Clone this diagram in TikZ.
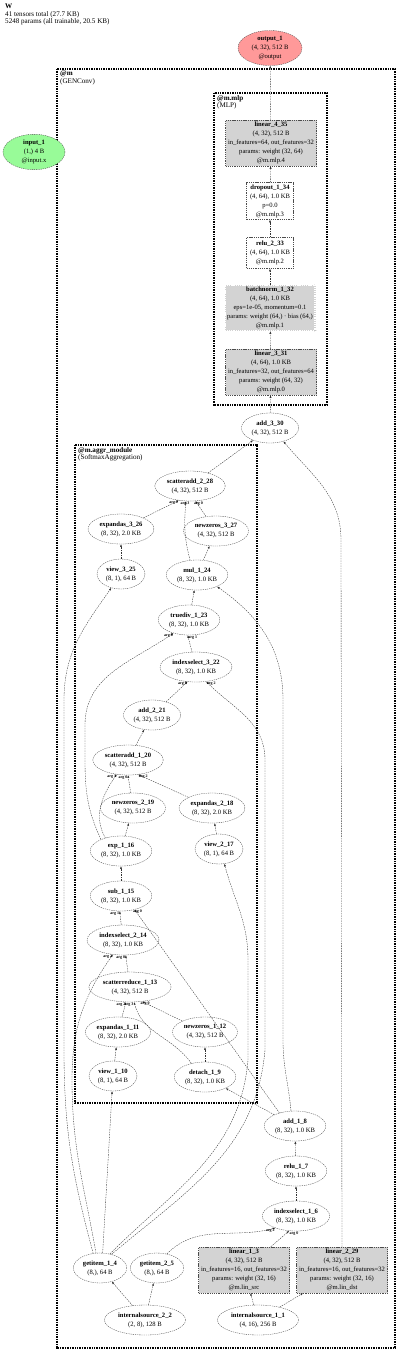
\documentclass[tikz,border=0pt]{standalone}
\usepackage{fontspec}
\setmainfont{Liberation Serif}
\usetikzlibrary{shapes.geometric,arrows.meta,positioning}
\definecolor{modgray}{RGB}{211,211,211}
\definecolor{outred}{RGB}{255,153,153}
\definecolor{ingreen}{RGB}{152,251,152}
\tikzset{
  op/.style={ellipse,draw=black!70,dash pattern=on 1.3pt off 0.9pt,line width=0.35pt,
    font=\fontsize{6.6}{9}\selectfont,align=center,inner xsep=1.8pt,inner ysep=0.5pt,minimum height=30pt},
  modop/.style={rectangle,draw=black!70,dash pattern=on 1.3pt off 0.9pt,line width=0.35pt,
    fill=modgray,font=\fontsize{6.6}{9}\selectfont,align=center,inner sep=0.6pt,
    minimum width=91pt,minimum height=46pt},
  plainop/.style={modop,fill=none,minimum width=47pt,minimum height=31pt},
  grp/.style={draw,line width=1.6pt,dash pattern=on 1pt off 0.7pt},
  grplabel/.style={anchor=north west,align=left,font=\fontsize{7.1}{7.2}\selectfont,inner sep=0pt},
  flow/.style={draw=black!80,line width=0.35pt,dash pattern=on 1.5pt off 1pt,
    -{Latex[length=2.6pt,width=2pt]}},
  argl/.style={font=\fontsize{4}{4}\selectfont\bfseries,inner sep=0.4pt},
}
\newcommand{\opn}[2]{\textbf{#1}\\#2}

\begin{document}
\begin{tikzpicture}[x=1pt,y=-1pt]
  \useasboundingbox (0,0) rectangle (400,1354);
  \node[grplabel] (title) at (5,4) {\textbf{W}\\41 tensors total (27.7 KB)\\5248 params (all trainable, 20.5 KB)};

  % module boxes
  \draw[grp] (57,69) rectangle (395,1348);
  \node[grplabel] (m_lbl) at (60,71) {\textbf{@m}\\(GENConv)};
  \draw[grp] (214,93) rectangle (327,405);
  \node[grplabel] (mlp_lbl) at (217,95) {\textbf{@m.mlp}\\(MLP)};
  \draw[grp] (75,445) rectangle (257,1103);
  \node[grplabel] (aggr_lbl) at (78,447) {\textbf{@m.aggr\_module}\\(SoftmaxAggregation)};

  % inputs / outputs
  \node[op,fill=outred,minimum width=64pt] (output_1) at (270,48) {\opn{output\_1}{(4, 32), 512 B}\\@output};
  \node[op,fill=ingreen,minimum width=62pt] (input_1) at (34,152) {\opn{input\_1}{(1,) 4 B}\\@input.x};

  % mlp
  \node[modop] (linear_4_35) at (271,143) {\opn{linear\_4\_35}{(4, 32), 512 B}\\in\_features=64, out\_features=32\\params: weight (32, 64)\\@m.mlp.4};
  \node[plainop,minimum height=37pt] (dropout_1_34) at (270,201) {\opn{dropout\_1\_34}{(4, 64), 1.0 KB}\\p=0.0\\@m.mlp.3};
  \node[plainop] (relu_2_33) at (270,253) {\opn{relu\_2\_33}{(4, 64), 1.0 KB}\\@m.mlp.2};
  \node[modop,double=white,double distance=2.2pt,minimum height=46pt] (batchnorm_1_32) at (270,308) {\opn{batchnorm\_1\_32}{(4, 64), 1.0 KB}\\eps=1e-05, momentum=0.1\\params: weight (64,) · bias (64,)\\@m.mlp.1};
  \node[modop] (linear_3_31) at (271,372) {\opn{linear\_3\_31}{(4, 64), 1.0 KB}\\in\_features=32, out\_features=64\\params: weight (64, 32)\\@m.mlp.0};
  \node[op] (add_3_30) at (270,428) {\opn{add\_3\_30}{(4, 32), 512 B}};

  % aggregation
  \node[op] (scatteradd_2_28) at (190,486) {\opn{scatteradd\_2\_28}{(4, 32), 512 B}};
  \node[op] (expandas_3_26) at (121,529) {\opn{expandas\_3\_26}{(8, 32), 2.0 KB}};
  \node[op] (newzeros_3_27) at (216,531) {\opn{newzeros\_3\_27}{(4, 32), 512 B}};
  \node[op] (view_3_25) at (121,574) {\opn{view\_3\_25}{(8, 1), 64 B}};
  \node[op] (mul_1_24) at (197,575) {\opn{mul\_1\_24}{(8, 32), 1.0 KB}};
  \node[op] (truediv_1_23) at (189,620) {\opn{truediv\_1\_23}{(8, 32), 1.0 KB}};
  \node[op] (indexselect_3_22) at (196,667) {\opn{indexselect\_3\_22}{(8, 32), 1.0 KB}};
  \node[op] (add_2_21) at (152,715) {\opn{add\_2\_21}{(4, 32), 512 B}};
  \node[op] (scatteradd_1_20) at (128,760) {\opn{scatteradd\_1\_20}{(4, 32), 512 B}};
  \node[op] (newzeros_2_19) at (133,808) {\opn{newzeros\_2\_19}{(4, 32), 512 B}};
  \node[op] (expandas_2_18) at (212,808) {\opn{expandas\_2\_18}{(8, 32), 2.0 KB}};
  \node[op] (exp_1_16) at (121,851) {\opn{exp\_1\_16}{(8, 32), 1.0 KB}};
  \node[op] (view_2_17) at (219,849) {\opn{view\_2\_17}{(8, 1), 64 B}};
  \node[op] (sub_1_15) at (121,896) {\opn{sub\_1\_15}{(8, 32), 1.0 KB}};
  \node[op] (indexselect_2_14) at (123,940) {\opn{indexselect\_2\_14}{(8, 32), 1.0 KB}};
  \node[op] (scatterreduce_1_13) at (130,987) {\opn{scatterreduce\_1\_13}{(4, 32), 512 B}};
  \node[op] (expandas_1_11) at (118,1032) {\opn{expandas\_1\_11}{(8, 32), 2.0 KB}};
  \node[op] (newzeros_1_12) at (205,1032) {\opn{newzeros\_1\_12}{(4, 32), 512 B}};
  \node[op] (view_1_10) at (113,1076) {\opn{view\_1\_10}{(8, 1), 64 B}};
  \node[op] (detach_1_9) at (205,1077) {\opn{detach\_1\_9}{(8, 32), 1.0 KB}};

  % message part
  \node[op] (add_1_8) at (295,1126) {\opn{add\_1\_8}{(8, 32), 1.0 KB}};
  \node[op] (relu_1_7) at (296,1171) {\opn{relu\_1\_7}{(8, 32), 1.0 KB}};
  \node[op] (indexselect_1_6) at (296,1216) {\opn{indexselect\_1\_6}{(8, 32), 1.0 KB}};
  \node[modop] (linear_1_3) at (244,1270) {\opn{linear\_1\_3}{(4, 32), 512 B}\\in\_features=16, out\_features=32\\params: weight (32, 16)\\@m.lin\_src};
  \node[modop] (linear_2_29) at (342,1270) {\opn{linear\_2\_29}{(4, 32), 512 B}\\in\_features=16, out\_features=32\\params: weight (32, 16)\\@m.lin\_dst};
  \node[op] (getitem_1_4) at (100,1268) {\opn{getitem\_1\_4}{(8,), 64 B}};
  \node[op] (getitem_2_5) at (157,1268) {\opn{getitem\_2\_5}{(8,), 64 B}};
  \node[op] (internalsource_2_2) at (145,1320) {\opn{internalsource\_2\_2}{(2, 8), 128 B}};
  \node[op] (internalsource_1_1) at (258,1320) {\opn{internalsource\_1\_1}{(4, 16), 256 B}};

  % edges: mlp
  \draw[flow] (linear_4_35) -- (output_1);
  \draw[flow] (dropout_1_34) -- (linear_4_35);
  \draw[flow] (relu_2_33) -- (dropout_1_34);
  \draw[flow] (batchnorm_1_32) -- (relu_2_33);
  \draw[flow] (linear_3_31) -- (batchnorm_1_32);
  \draw[flow] (add_3_30) -- (linear_3_31);
  \draw[flow] (scatteradd_2_28) -- (add_3_30);
  \draw[flow] (linear_2_29.north) -- (341,540) to[out=90,in=-50] (add_3_30.-45);

  % edges: aggregation
  \draw[flow] (expandas_3_26) -- (scatteradd_2_28.-128) node[argl,at end,anchor=north east]{arg 2};
  \draw[flow] (mul_1_24.115) to[out=105,in=-95] node[argl,at end,anchor=north,xshift=-1pt]{arg 3} (scatteradd_2_28.-105);
  \draw[flow] (newzeros_3_27) -- (scatteradd_2_28.-70) node[argl,at end,anchor=north west,xshift=-2pt]{arg 0};
  \draw[flow] (view_3_25) -- (expandas_3_26);
  \draw[flow] (mul_1_24) -- (newzeros_3_27);
  \draw[flow] (truediv_1_23) -- (mul_1_24);
  \draw[flow] (exp_1_16.150) to[out=115,in=-90] (85,760) -- (85,725) to[out=90,in=-145] node[argl,at end,anchor=north east]{arg 0} (truediv_1_23.-140);
  \draw[flow] (indexselect_3_22) -- (truediv_1_23.-95) node[argl,at end,anchor=north west]{arg 1};
  \draw[flow] (add_2_21) -- (indexselect_3_22.-120) node[argl,at end,anchor=north east]{arg 0};
  \draw[flow] (scatteradd_1_20) -- (add_2_21);
  \draw[flow] (exp_1_16.140) to[out=120,in=-125] node[argl,at end,anchor=north east]{arg 3} (scatteradd_1_20.-128);
  \draw[flow] (newzeros_2_19) -- (scatteradd_1_20.-90) node[argl,at end,anchor=north east]{arg 0};
  \draw[flow] (expandas_2_18) -- (scatteradd_1_20.-55) node[argl,at end,anchor=north west]{arg 2};
  \draw[flow] (exp_1_16) -- (newzeros_2_19);
  \draw[flow] (view_2_17) -- (expandas_2_18);
  \draw[flow] (sub_1_15) -- (exp_1_16);
  \draw[flow] (indexselect_2_14) -- (sub_1_15.-95) node[argl,at end,anchor=north east]{arg 1};
  \draw[flow] (scatterreduce_1_13) -- (indexselect_2_14.-80) node[argl,at end,anchor=north east]{arg 0};
  \draw[flow] (expandas_1_11) -- (scatterreduce_1_13.-105) node[argl,at end,anchor=north east]{arg 2};
  \draw[flow] (detach_1_9.135) to[out=125,in=-75] node[argl,at end,anchor=north east]{arg 3} (scatterreduce_1_13.-75);
  \draw[flow] (newzeros_1_12) -- (scatterreduce_1_13.-50) node[argl,at end,anchor=north west,xshift=-2pt]{arg 0};
  \draw[flow] (view_1_10) -- (expandas_1_11);
  \draw[flow] (detach_1_9) -- (newzeros_1_12);

  % edges: getitem_1_4 (index)
  \draw[flow] (getitem_1_4.80) -- (view_1_10);
  \draw[flow] (getitem_1_4.105) to[out=100,in=-90] (72,1080) to[out=90,in=-125] node[argl,at end,anchor=north east]{arg 2} (indexselect_2_14.-125);
  \draw[flow] (getitem_1_4.115) to[out=105,in=-90] (64,1050) -- (64,700) to[out=90,in=-125] (view_3_25.-125);
  \draw[flow] (getitem_1_4.55) to[out=45,in=-95] (248,1060) -- (248,960) to[out=90,in=-75] (view_2_17.-70);
  \draw[flow] (getitem_1_4.50) to[out=40,in=-95] (265,1050) -- (265,760) to[out=90,in=-45] node[argl,at end,anchor=north west]{arg 2} (indexselect_3_22.-55);

  % edges: add_1_8 (messages)
  \draw[flow] (add_1_8) -- (detach_1_9);
  \draw[flow] (add_1_8.140) -- (sub_1_15.-45) node[argl,at end,anchor=north west,xshift=-2pt]{arg 0};
  \draw[flow] (add_1_8.105) to[out=95,in=-90] (283,1040) -- (283,700) to[out=90,in=-35] (mul_1_24.-30);

  % edges: bottom
  \draw[flow] (relu_1_7) -- (add_1_8);
  \draw[flow] (indexselect_1_6) -- (relu_1_7);
  \draw[flow] (linear_1_3) -- (indexselect_1_6.-115) node[argl,at end,anchor=north west]{arg 0};
  \draw[flow] (getitem_2_5.55) to[out=45,in=-165] node[argl,at end,anchor=north east]{arg 2} (indexselect_1_6.-150);
  \draw[flow] (internalsource_2_2) -- (getitem_1_4);
  \draw[flow] (internalsource_2_2) -- (getitem_2_5);
  \draw[flow] (internalsource_1_1) -- (linear_1_3);
  \draw[flow] (internalsource_1_1) -- (linear_2_29);
\end{tikzpicture}
\end{document}
